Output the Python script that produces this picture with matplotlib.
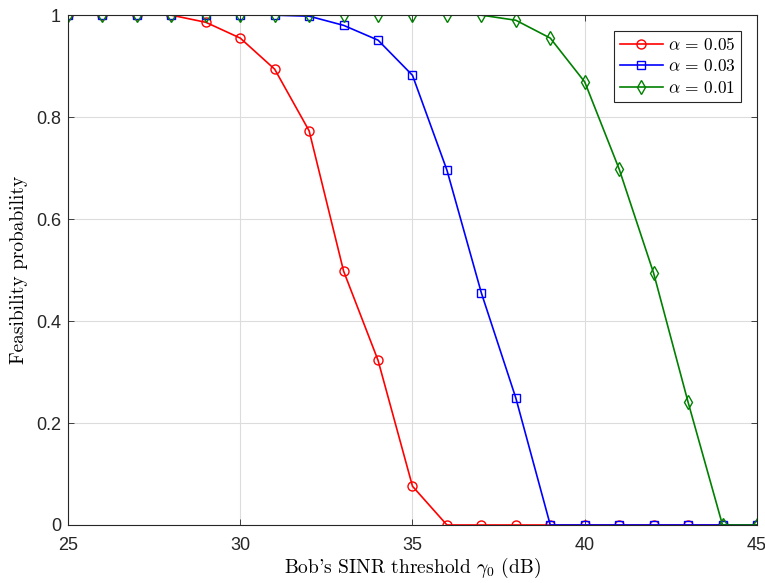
import matplotlib
matplotlib.use("Agg")
import matplotlib.pyplot as plt
import numpy as np

plt.rcParams['mathtext.fontset'] = 'cm'

gamma0 = list(range(25, 46))
p_005 = [1, 1, 1, 1, 0.986, 0.955, 0.894, 0.773, 0.498, 0.323, 0.076, 0, 0, 0, 0, 0, 0, 0, 0, 0, 0]
p_003 = [1, 1, 1, 1, 1, 1, 1, 0.998, 0.980, 0.951, 0.882, 0.696, 0.455, 0.249, 0, 0, 0, 0, 0, 0, 0]
p_001 = [1, 1, 1, 1, 1, 1, 1, 1, 1, 1, 1, 1, 1, 0.990, 0.955, 0.869, 0.698, 0.494, 0.241, 0, 0]
labels = [r'$\alpha\,=\,0.05$', r'$\alpha\,=\,0.03$', r'$\alpha\,=\,0.01$']
xticks = [25, 30, 35, 40, 45]
yticks = [0, 0.2, 0.4, 0.6, 0.8, 1]

fig = plt.figure(figsize=(7.65, 5.83), dpi=100)
ax = fig.add_axes([0.0889, 0.0995, 0.9006, 0.8745])

ax.plot(gamma0, p_005, color='red', marker='o', mfc='none', ms=6.5, lw=1.2, mew=1.0, label=labels[0])
ax.plot(gamma0, p_003, color='blue', marker='s', mfc='none', ms=5.5, lw=1.2, mew=1.0, label=labels[1])
ax.plot(gamma0, p_001, color='green', marker='d', mfc='none', ms=7, lw=1.2, mew=1.0, label=labels[2])

ax.set_xlim(25, 45)
ax.set_ylim(0, 1)
ax.set_xticks(xticks)
ax.set_yticks(yticks)
ax.set_yticklabels(['0', '0.2', '0.4', '0.6', '0.8', '1'])
for t in ax.get_xticklabels() + ax.get_yticklabels():
    t.set_fontfamily('Liberation Sans')
    t.set_fontsize(13)
    t.set_color('#262626')
ax.tick_params(direction='in', length=4, width=0.6, top=True, right=True, colors='#262626')
ax.tick_params(axis='x', pad=9)
ax.tick_params(axis='y', pad=5)
ax.grid(True, color='#dcdcdc', lw=0.8)
ax.set_axisbelow(True)
for s in ax.spines.values():
    s.set_linewidth(0.8)
    s.set_color('#262626')

ax.set_xlabel(r"Bob's SINR threshold $\gamma_0$ (dB)", fontfamily='cmr10', fontsize=14, labelpad=1)
ax.set_ylabel("Feasibility probability", fontfamily='cmr10', fontsize=14, labelpad=6)

leg = ax.legend(loc='upper right', fontsize=12.5, fancybox=False, edgecolor='#262626',
                framealpha=1, borderaxespad=0.9, handlelength=2.5, labelspacing=0.2,
                handletextpad=0.3, borderpad=0.3)
leg.get_frame().set_linewidth(0.8)

fig.savefig('out.png', dpi=100)
